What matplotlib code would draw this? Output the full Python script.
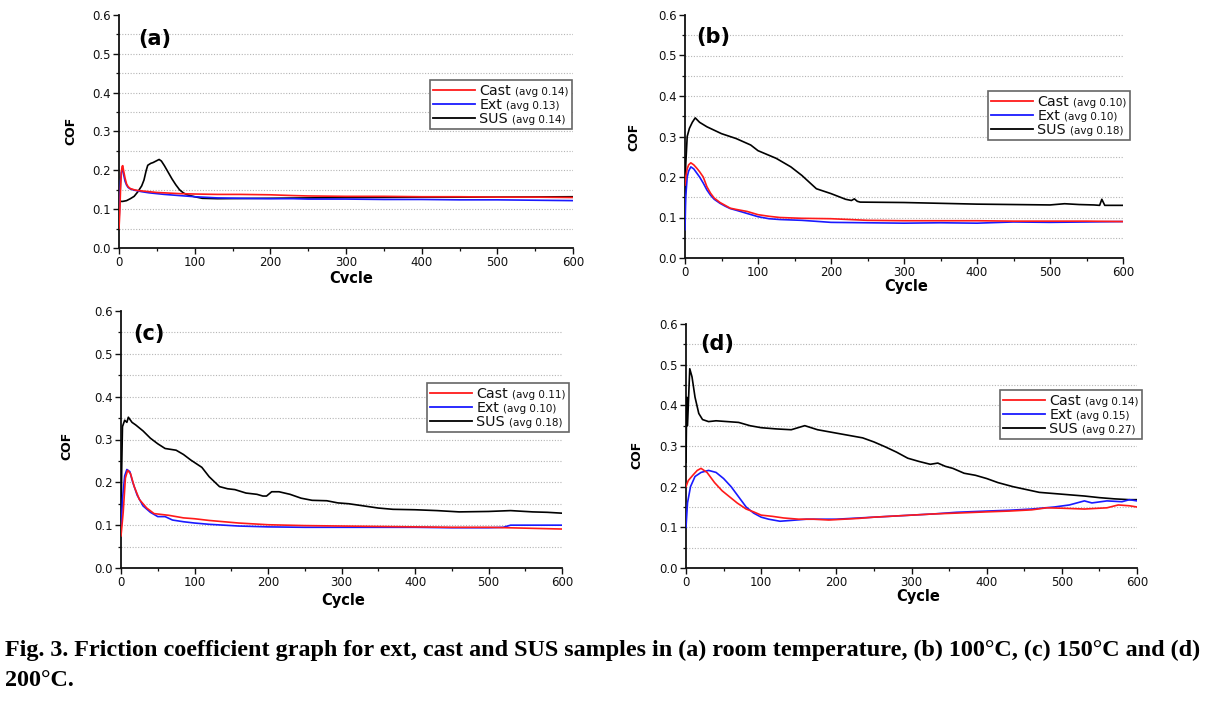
import matplotlib
matplotlib.use("Agg")
import matplotlib.pyplot as plt
from matplotlib.offsetbox import AnchoredOffsetbox, HPacker, VPacker, TextArea, DrawingArea
from matplotlib.lines import Line2D
from matplotlib.ticker import MultipleLocator

# ---------------- data ----------------
series_names = ["Cast", "Ext", "SUS"]
series_colors = ["#ff1a1a", "#1a1aff", "#000000"]

# (a) room temperature
a_cast_x = [0,1,2,3,4,5,6,8,10,12,15,20,25,30,40,50,60,80,100,130,160,200,230,250,300,350,400,450,500,550,600]
a_cast_y = [0.05,0.09,0.15,0.19,0.21,0.212,0.2,0.18,0.165,0.158,0.153,0.15,0.148,0.147,0.145,0.143,0.142,0.14,0.139,0.138,0.138,0.137,0.135,0.134,0.133,0.133,0.132,0.132,0.131,0.131,0.13]
a_ext_x = [0,1,2,3,4,5,6,8,10,12,15,20,25,30,40,50,60,80,100,130,160,200,230,250,300,350,400,450,500,550,600]
a_ext_y = [0.07,0.12,0.17,0.195,0.2,0.2,0.19,0.172,0.162,0.156,0.152,0.149,0.147,0.145,0.142,0.14,0.138,0.135,0.132,0.129,0.128,0.127,0.127,0.126,0.126,0.125,0.125,0.124,0.124,0.123,0.122]
a_sus_x = [0,5,10,15,20,25,30,33,36,38,42,45,50,53,56,60,65,70,75,80,85,90,100,110,130,200,300,400,500,600]
a_sus_y = [0.12,0.12,0.122,0.127,0.133,0.145,0.16,0.175,0.2,0.213,0.218,0.22,0.225,0.228,0.224,0.212,0.195,0.178,0.163,0.15,0.142,0.137,0.132,0.128,0.127,0.128,0.13,0.131,0.131,0.132]
a_avgs = ["0.14", "0.13", "0.14"]

# (b) 100 C
b_cast_x = [0,1,3,5,8,12,16,20,25,30,35,40,48,55,62,70,85,100,115,130,160,200,250,300,350,400,450,500,550,600]
b_cast_y = [0.18,0.2,0.22,0.23,0.235,0.23,0.222,0.213,0.2,0.176,0.16,0.148,0.137,0.13,0.123,0.12,0.115,0.107,0.103,0.1,0.098,0.097,0.093,0.092,0.092,0.092,0.091,0.091,0.091,0.09]
b_ext_x = [0,1,3,5,8,12,16,20,25,30,35,40,48,55,62,70,85,100,115,130,160,200,250,300,350,400,450,500,550,600]
b_ext_y = [0.07,0.15,0.2,0.215,0.225,0.22,0.21,0.2,0.185,0.168,0.155,0.145,0.135,0.128,0.122,0.118,0.11,0.102,0.097,0.095,0.093,0.088,0.087,0.086,0.087,0.086,0.089,0.088,0.089,0.09]
b_sus_x = [0,1,3,6,10,14,20,30,50,70,90,100,125,145,160,180,200,220,228,232,236,240,300,350,400,450,500,520,540,560,568,571,575,600]
b_sus_y = [0.1,0.23,0.3,0.32,0.335,0.346,0.335,0.324,0.307,0.295,0.279,0.265,0.246,0.225,0.204,0.171,0.159,0.145,0.142,0.146,0.14,0.138,0.137,0.135,0.133,0.132,0.131,0.134,0.132,0.131,0.13,0.145,0.13,0.13]
b_avgs = ["0.10", "0.10", "0.18"]

# (c) 150 C
c_cast_x = [0,3,6,9,13,18,25,35,45,55,65,75,85,100,120,140,160,180,200,250,300,350,400,450,500,550,600]
c_cast_y = [0.075,0.13,0.21,0.228,0.22,0.19,0.16,0.14,0.127,0.125,0.123,0.12,0.117,0.115,0.111,0.108,0.105,0.103,0.101,0.099,0.098,0.097,0.096,0.095,0.095,0.093,0.091]
c_ext_x = [0,2,5,8,12,16,22,30,40,50,60,70,85,100,120,140,160,180,200,250,300,350,400,450,500,520,530,600]
c_ext_y = [0.085,0.16,0.215,0.23,0.225,0.2,0.17,0.145,0.13,0.12,0.12,0.112,0.108,0.105,0.102,0.1,0.098,0.097,0.096,0.095,0.095,0.095,0.095,0.094,0.094,0.095,0.1,0.1]
c_sus_x = [0,1,2,5,8,10,15,20,30,40,50,60,75,85,95,110,120,134,145,155,170,185,193,198,205,215,230,245,260,280,295,310,330,350,370,400,430,460,500,530,560,580,600]
c_sus_y = [0.1,0.237,0.33,0.345,0.34,0.352,0.34,0.334,0.32,0.303,0.29,0.279,0.275,0.265,0.252,0.235,0.213,0.19,0.185,0.183,0.175,0.172,0.168,0.168,0.178,0.178,0.172,0.163,0.158,0.157,0.152,0.15,0.145,0.14,0.137,0.136,0.134,0.131,0.132,0.134,0.131,0.13,0.128]
c_avgs = ["0.11", "0.10", "0.18"]

# (d) 200 C
d_cast_x = [0,3,10,15,20,28,38,48,58,68,80,90,100,115,130,150,170,190,210,230,250,270,300,330,360,400,430,460,480,500,530,560,575,590,600]
d_cast_y = [0.2,0.215,0.23,0.24,0.245,0.235,0.21,0.19,0.175,0.16,0.145,0.138,0.13,0.127,0.123,0.12,0.12,0.118,0.12,0.122,0.125,0.127,0.13,0.133,0.135,0.138,0.14,0.143,0.148,0.147,0.145,0.148,0.155,0.153,0.15]
d_ext_x = [0,2,6,12,20,30,40,50,60,70,80,90,100,110,125,140,160,180,200,220,250,280,300,330,360,400,430,460,490,510,520,530,540,560,580,590,600]
d_ext_y = [0.1,0.16,0.2,0.225,0.235,0.24,0.235,0.22,0.2,0.175,0.15,0.135,0.125,0.12,0.115,0.117,0.12,0.12,0.12,0.122,0.125,0.128,0.13,0.133,0.137,0.14,0.142,0.145,0.15,0.155,0.16,0.165,0.16,0.165,0.163,0.168,0.165]
d_sus_x = [0,1,2,5,8,12,17,22,30,40,55,70,85,100,120,140,158,175,190,205,220,235,250,265,280,295,310,325,335,345,355,370,385,400,415,435,455,470,490,510,530,550,570,590,600]
d_sus_y = [0.26,0.42,0.35,0.49,0.47,0.42,0.38,0.365,0.36,0.362,0.36,0.358,0.35,0.345,0.342,0.34,0.35,0.34,0.335,0.33,0.325,0.32,0.31,0.298,0.285,0.27,0.262,0.255,0.258,0.25,0.245,0.233,0.228,0.22,0.21,0.2,0.192,0.186,0.183,0.18,0.177,0.173,0.17,0.168,0.168]
d_avgs = ["0.14", "0.15", "0.27"]

panel_tags = ["(a)", "(b)", "(c)", "(d)"]
xlabels = ["Cvcle", "Cycle", "Cycle", "Cycle"]
ylabel = "COF"
caption1 = "Fig. 3. Friction coefficient graph for ext, cast and SUS samples in (a) room temperature, (b) 100\u00b0C, (c) 150\u00b0C and (d)"
caption2 = "200\u00b0C."

# ---------------- layout (pixel geometry of the reference) ----------------
W, H = 1217, 703
def fx(x): return x / W
def fy(y): return 1 - y / H

layout = [
    dict(axes=(119, 15, 573, 248), tag=(155, 39), xl=(351, 279), yl=(71, 131), leg=(430, 80)),
    dict(axes=(685, 15, 1123, 258), tag=(713, 37), xl=(906, 286), yl=(634, 137), leg=(988, 91)),
    dict(axes=(121, 311, 562, 568), tag=(149, 334), xl=(343, 601), yl=(67, 446), leg=(427, 383)),
    dict(axes=(686, 324, 1137, 568), tag=(717, 344), xl=(918, 596), yl=(637, 455), leg=(1000, 390)),
]

data = [
    ((a_cast_x, a_cast_y), (a_ext_x, a_ext_y), (a_sus_x, a_sus_y), a_avgs),
    ((b_cast_x, b_cast_y), (b_ext_x, b_ext_y), (b_sus_x, b_sus_y), b_avgs),
    ((c_cast_x, c_cast_y), (c_ext_x, c_ext_y), (c_sus_x, c_sus_y), c_avgs),
    ((d_cast_x, d_cast_y), (d_ext_x, d_ext_y), (d_sus_x, d_sus_y), d_avgs),
]

fig = plt.figure(figsize=(W / 100, H / 100), dpi=100)
fig.patch.set_facecolor("white")

for lay, dat, tag, xlab in zip(layout, data, panel_tags, xlabels):
    x0, y0, x1, y1 = lay["axes"]
    ax = fig.add_axes([fx(x0), fy(y1), (x1 - x0) / W, (y1 - y0) / H])
    cast, ext, sus, avgs = dat
    ax.plot(sus[0], sus[1], color=series_colors[2], lw=1.2, zorder=3)
    ax.plot(ext[0], ext[1], color=series_colors[1], lw=1.2, zorder=4)
    ax.plot(cast[0], cast[1], color=series_colors[0], lw=1.2, zorder=5)
    ax.set_xlim(0, 600)
    ax.set_ylim(0, 0.6)
    for s in ("top", "right"):
        ax.spines[s].set_visible(False)
    for s in ("left", "bottom"):
        ax.spines[s].set_linewidth(1.3)
        ax.spines[s].set_color("#111111")
    ax.xaxis.set_major_locator(MultipleLocator(100))
    ax.xaxis.set_minor_locator(MultipleLocator(50))
    ax.yaxis.set_major_locator(MultipleLocator(0.1))
    ax.yaxis.set_minor_locator(MultipleLocator(0.05))
    ax.yaxis.set_major_formatter(matplotlib.ticker.FormatStrFormatter("%.1f"))
    ax.tick_params(which="major", direction="out", length=4, width=1.0, labelsize=8.5,
                   colors="#111111", pad=2)
    ax.tick_params(which="minor", direction="out", length=2.5, width=0.9, colors="#111111")
    for gy in [0.05 * k for k in range(1, 12)]:
        ax.axhline(gy, color="#b5b5b5", lw=0.8, ls=(0, (1, 1.5)), zorder=1)
    fig.text(fx(lay["tag"][0]), fy(lay["tag"][1]), tag, fontsize=15, fontweight="bold",
             ha="center", va="center")
    fig.text(fx(lay["xl"][0]), fy(lay["xl"][1]), xlab, fontsize=10.5, fontweight="bold",
             ha="center", va="center")
    fig.text(fx(lay["yl"][0]), fy(lay["yl"][1]), ylabel, fontsize=9, fontweight="bold",
             ha="center", va="center", rotation=90)
    # legend
    rows = []
    for name, avg, col in zip(series_names, avgs, series_colors):
        da = DrawingArea(30, 8, 0, 0)
        da.add_artist(Line2D([0, 30], [3.6, 3.6], color=col, lw=1.3))
        t1 = TextArea(name, textprops=dict(fontsize=10.3, color="#111111"))
        t2 = TextArea("(avg %s)" % avg, textprops=dict(fontsize=7.5, color="#111111"))
        rows.append(HPacker(children=[da, t1, t2], align="baseline", pad=0, sep=3))
    vp = VPacker(children=rows, align="left", pad=0, sep=0)
    lx, ly = lay["leg"]
    anch = AnchoredOffsetbox(loc="upper left", child=vp, pad=0.25, borderpad=0,
                             frameon=True, bbox_to_anchor=(fx(lx), fy(ly)),
                             bbox_transform=fig.transFigure)
    anch.patch.set_edgecolor("#666666")
    anch.patch.set_linewidth(1.2)
    anch.patch.set_boxstyle("square", pad=0)
    fig.add_artist(anch)

fig.text(fx(5), fy(650), caption1, fontsize=17.4, fontweight="bold",
         family="Liberation Serif", ha="left", va="center")
fig.text(fx(5), fy(681), caption2, fontsize=17.4, fontweight="bold",
         family="Liberation Serif", ha="left", va="center")

fig.savefig("out.png", dpi=100, facecolor="white")
